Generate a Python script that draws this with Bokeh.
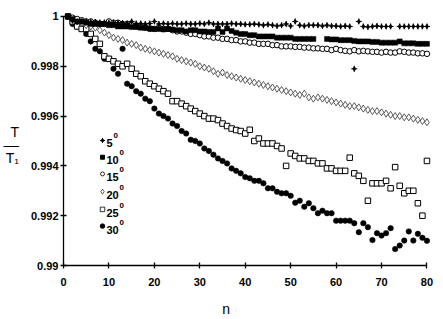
from bokeh.plotting import figure
from bokeh.models import Range1d, FixedTicker, Label
from bokeh.embed import file_html
from bokeh.resources import INLINE

n = list(range(1, 81))
NA = float("nan")

s5 = [1.0, 0.99985, 0.9998, 0.9998, 0.9998, 0.99978, 0.99978, 0.99976, 0.99976, 0.99975,
      0.99975, 0.99974, 0.99974, 0.99972, 0.9998, 0.99972, 0.99972, 0.9997, 0.99972, 0.9998,
      0.9997, 0.99972, 0.9997, 0.99972, 0.9997, 0.9997, 0.99972, 0.9997, 0.9997, 0.99972,
      0.9997, 0.99975, 0.9997, 0.9997, 0.9997, 0.9997, 0.99972, 0.9997, 0.9997, 0.99968,
      0.99968, 0.9997, 0.99968, 0.99965, 0.99968, 0.99965, 0.99962, 0.99965, 0.9997, 0.99962,
      0.9998, 0.99965, 0.99962, 0.99965, 0.99965, 0.99965, 0.99962, 0.99965, 0.99962, 0.99962,
      0.9996, 0.99962, 0.9996, 0.9979, 0.9998, 0.9996, 0.99958, 0.9996, 0.99962, 0.9996,
      0.9996, 0.9996, NA, 0.9996, 0.9996, 0.9996, 0.9996, 0.9996, 0.9996, 0.9996]

s10 = [1.0, 0.9999, 0.9998, 0.9998, 0.99975, 0.9997, 0.9997, 0.9997, 0.9997, 0.99965,
       0.99965, 0.9996, 0.9996, 0.9996, 0.99958, 0.99958, 0.99955, 0.99955, 0.99952, 0.9995,
       0.9995, 0.99948, 0.9995, 0.99948, 0.99945, 0.99945, 0.9994, 0.99945, 0.99945, 0.9994,
       0.9994, 0.99938, 0.99938, 0.99952, 0.99938, 0.99952, 0.99942, 0.99935, 0.9993, 0.9993,
       0.99925, 0.99925, 0.9992, 0.9992, 0.9992, 0.9992, 0.99915, 0.99915, 0.99915, 0.99915,
       0.9991, 0.9991, 0.9991, 0.9991, 0.9991, NA, NA, 0.9991, 0.99908, 0.99908,
       0.99905, 0.99905, 0.99905, 0.99902, 0.999, 0.999, 0.999, 0.99898, 0.99898, 0.99895,
       0.99895, 0.99895, 0.99895, 0.999, 0.99892, 0.99892, 0.99892, 0.9989, 0.9989, 0.9989]

s15 = [1.0, 0.99995, 0.9999, 0.99985, 0.9998, 0.9998, 0.99975, 0.9997, 0.9997, 0.9998,
       0.99975, 0.99975, 0.9997, 0.9997, 0.99965, 0.9996, 0.9996, 0.99955, 0.9995, 0.9995,
       0.99955, 0.9995, 0.9995, 0.99945, 0.9994, 0.9994, 0.99935, 0.9993, 0.9993, 0.99925,
       0.9992, 0.9992, 0.99915, 0.99915, 0.9991, 0.9991, 0.99905, 0.99905, 0.999, 0.999,
       0.99895, 0.99895, 0.9989, 0.9989, 0.9989, 0.99885, 0.99885, 0.9988, 0.9988, 0.9988,
       0.99878, 0.99878, 0.99875, 0.99875, 0.99872, 0.99872, 0.9987, 0.9987, 0.99865, 0.9987,
       0.99865, 0.99862, 0.9986, 0.99865, 0.9986, 0.99862, 0.9986, 0.99858, 0.99858, 0.99855,
       0.99858, 0.99855, 0.99855, 0.9986, 0.99858, 0.99855, 0.99855, 0.99852, 0.99852, 0.9985]

s20 = [1.0, 0.99985, 0.9998, 0.99975, 0.99965, 0.9996, 0.99955, 0.99945, 0.99935, 0.99925,
       0.99915, 0.9991, 0.99905, 0.99895, 0.9989, 0.99885, 0.99875, 0.9987, 0.99865, 0.9986,
       0.99855, 0.9985, 0.99845, 0.9984, 0.9983, 0.99825, 0.9982, 0.99815, 0.9981, 0.998,
       0.99795, 0.9979, 0.9978, 0.9977, 0.99775, 0.99765, 0.9976, 0.99755, 0.9975, 0.99745,
       0.9974, 0.99735, 0.9973, 0.99725, 0.9972, 0.99715, 0.9971, 0.99705, 0.997, 0.99695,
       0.9969, 0.99685, 0.9969, 0.99675, 0.9967, 0.99675, 0.9967, 0.99665, 0.9966, 0.99655,
       0.9965, 0.99645, 0.9964, 0.9964, 0.99635, 0.9963, 0.99625, 0.9962, 0.9962, 0.99615,
       0.9961, 0.99605, 0.996, 0.996, 0.99595, 0.99595, 0.9959, 0.99585, 0.9958, 0.99575]

s25 = [1.0, 0.9998, 0.9996, 0.9995, 0.9995, 0.9993, 0.9991, 0.9989, 0.9984, 0.9983,
       0.9982, 0.9981, 0.998, 0.9981, 0.9979, 0.9977, 0.9976, 0.9974, 0.9973, 0.9972,
       0.9971, 0.997, 0.9969, 0.9966, 0.9966, 0.9965, 0.9964, 0.9963, 0.9962, 0.9961,
       0.996, 0.9959, 0.9959, 0.99584, 0.9957, 0.9956, 0.9955, 0.99544, 0.9954, 0.9953,
       0.99545, 0.995, 0.9951, 0.9949, 0.9949, 0.9949, 0.9948, 0.9947, 0.994, 0.9945,
       0.9944, 0.9943, 0.9943, 0.9942, 0.9942, 0.9941, 0.9941, 0.9939, 0.9939, 0.9938,
       0.9938, 0.9938, 0.99433, 0.9937, 0.9936, 0.9934, 0.9926, 0.9933, 0.9933, 0.9933,
       0.9934, 0.9931, 0.99395, 0.9932, 0.9929, 0.993, 0.993, 0.9925, 0.992, 0.9942]

s30 = [1.0, 0.9997, 0.9996, 0.9995, 0.9993, 0.999, 0.9987, 0.9986, 0.9983, 0.9983,
       0.9979, 0.9977, 0.9987, 0.9973, 0.9972, 0.997, 0.9969, 0.9967, 0.9966, 0.9963,
       0.9961, 0.996, 0.9959, 0.9957, 0.9956, 0.9954, 0.9953, 0.99505, 0.995, 0.9949,
       0.9947, 0.9946, 0.99445, 0.9943, 0.9942, 0.9941, 0.9939, 0.9938, 0.9937, 0.99355,
       0.9935, 0.9934, 0.9934, 0.9933, 0.9931, 0.9931, 0.99296, 0.9929, 0.9929, 0.9928,
       0.99252, 0.9926, 0.99236, 0.9925, 0.9923, 0.9921, 0.9922, 0.9921, 0.9921, 0.9918,
       0.9918, 0.9918, 0.9918, 0.9917, 0.99134, 0.9917, 0.99154, 0.99102, 0.9913, 0.9912,
       0.9913, 0.9915, 0.99066, 0.9908, 0.991, 0.99137, 0.991, 0.99127, 0.99111, 0.99099]

x_ticks = [0, 10, 20, 30, 40, 50, 60, 70, 80]
y_ticks = [0.99, 0.992, 0.994, 0.996, 0.998, 1.0]
y_tick_labels = ["0.99", "0.992", "0.994", "0.996", "0.998", "1"]
legend_labels = ["5", "10", "15", "20", "25", "30"]

TICK_FONT = "Liberation Sans"
TEXT_FONT = "Liberation Sans"

X_END = 81.0
Y_END = 1.0002
FL, FT, FW, FH = 63.0, 11.0, 368.0, 258.0
p = figure(width=443, height=319, output_backend="svg", toolbar_location=None,
           x_range=Range1d(0, X_END), y_range=Range1d(0.99, Y_END),
           min_border_left=63, min_border_right=12, min_border_top=11, min_border_bottom=50)
p.outline_line_color = None
p.grid.visible = False
p.background_fill_color = "white"

def dx(px):
    return (px - FL) * X_END / FW

def dy(py):
    return Y_END - (py - FT) * (Y_END - 0.99) / FH

for ax in (p.xaxis[0], p.yaxis[0]):
    ax.axis_line_width = 1.3
    ax.major_tick_line_width = 1.3
    ax.major_tick_in = 3
    ax.major_tick_out = 3
    ax.minor_tick_in = 0
    ax.minor_tick_out = 0
    ax.major_label_text_font = TICK_FONT
    ax.major_label_text_font_style = "bold"
    ax.major_label_text_font_size = "11px"
    ax.major_label_text_color = "black"
    ax.axis_line_color = "black"
    ax.major_tick_line_color = "black"
    ax.axis_label_text_font = TEXT_FONT
    ax.axis_label_text_font_style = "normal"
    ax.axis_label_text_color = "black"

p.xaxis.ticker = FixedTicker(ticks=x_ticks)
p.xaxis.bounds = (0, 80)
p.xaxis.major_label_standoff = 9
p.xaxis.axis_label = "n" + "\u00a0" * 11
p.xaxis.axis_label_text_font_size = "14px"
p.xaxis.axis_label_standoff = 12

p.yaxis.ticker = FixedTicker(ticks=y_ticks)
p.yaxis.bounds = (0.99, 1.0)
p.yaxis.major_label_overrides = {t: l for t, l in zip(y_ticks, y_tick_labels)}
p.yaxis.major_label_standoff = 2
p.yaxis.axis_label = "\u00a0\nT\n\u2013\u2013\nT\u2081"
p.yaxis.axis_label_orientation = "horizontal"
p.yaxis.axis_label_text_font_size = "14px"
p.yaxis.axis_label_text_align = "center"
p.yaxis.axis_label_text_line_height = 0.8
p.yaxis.axis_label_standoff = 9

# series
p.scatter(n, s30, marker="circle", size=5.5, fill_color="black", line_color="black", line_width=0.5)
p.scatter(n, s25, marker="square", size=5.5, fill_color="white", line_color="black", line_width=1)
p.scatter(n, s20, marker="diamond", size=7, fill_color="white", line_color="#333333", line_width=0.8)
p.scatter(n, s15, marker="circle", size=5.5, fill_color="white", line_color="black", line_width=1)
p.scatter(n, s10, marker="square", size=5, fill_color="black", line_color="black", line_width=0.5)
p.scatter(n, s5, marker="diamond", size=5, fill_color="black", line_color="black", line_width=0.5)
p.scatter(n, s5, marker="cross", size=6, line_color="black", line_width=1)

# legend (manual)
rows = [142, 159, 176, 194, 212, 229]
lx = [dx(102)] * 6
ly = [dy(r) for r in rows]
p.scatter(lx[0:1], ly[0:1], marker="diamond", size=4, fill_color="black", line_color="black")
p.scatter(lx[0:1], ly[0:1], marker="cross", size=5, line_color="black", line_width=1)
p.scatter(lx[1:2], ly[1:2], marker="square", size=4, fill_color="black", line_color="black")
p.scatter(lx[2:3], ly[2:3], marker="circle", size=4, fill_color="white", line_color="black", line_width=0.8)
p.scatter(lx[3:4], ly[3:4], marker="diamond", size=5, fill_color="white", line_color="#333333", line_width=0.8)
p.scatter(lx[4:5], ly[4:5], marker="square", size=4.5, fill_color="white", line_color="black", line_width=0.8)
p.scatter(lx[5:6], ly[5:6], marker="circle", size=4.5, fill_color="black", line_color="black")

def canvas_label(x, y, text, size, font=TEXT_FONT, style="normal", align="center"):
    p.add_layout(Label(x=x, y=y, x_units="canvas", y_units="canvas", text=text,
                       text_align=align, text_baseline="middle", text_font=font,
                       text_font_style=style, text_font_size=size, text_color="black"))

for lab, r in zip(legend_labels, rows):
    canvas_label(106, r, lab, "11px", TICK_FONT, "bold", "left")
    sx = 113 if len(lab) == 1 else 119
    canvas_label(sx, r - 7, "0", "8px", TICK_FONT, "bold", "left")

open("out.html", "w").write(file_html(p, INLINE))
